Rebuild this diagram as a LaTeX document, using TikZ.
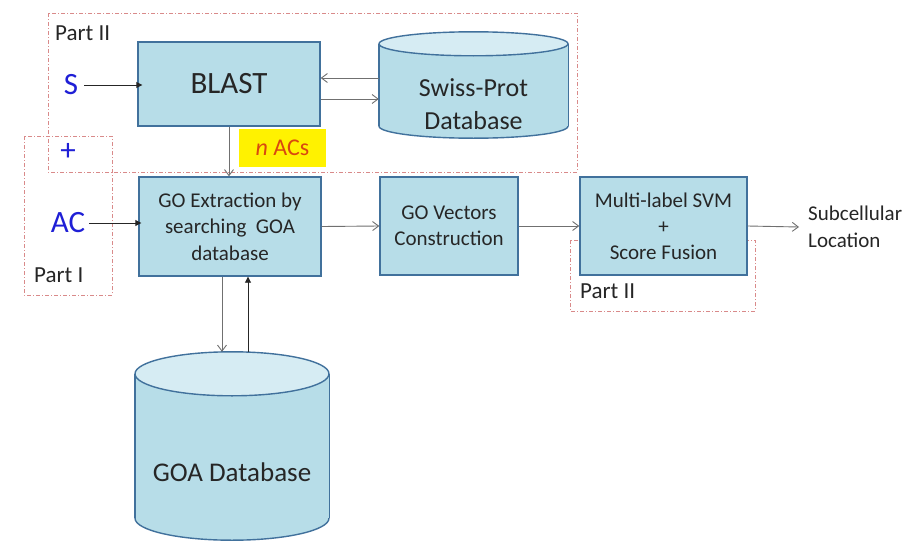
\documentclass[tikz,border=0pt]{standalone}
\usepackage{fontspec}
\setmainfont{Carlito}
\usetikzlibrary{arrows.meta,calc}
\definecolor{boxc}{HTML}{B7DDE8}
\definecolor{topc}{HTML}{D6ECF3}
\definecolor{bordc}{HTML}{41719C}
\definecolor{partc}{HTML}{D98A8A}
\definecolor{arrc}{HTML}{707070}
\definecolor{txtc}{HTML}{262626}
\definecolor{bluec}{HTML}{1F1FD6}
\definecolor{nacc}{HTML}{D9480F}
\newcommand\fsz[2]{\fontsize{#1}{#2}\selectfont}
\newcommand\dbcyl[3]{%
  \path (#1.north) ++(0,#3) coordinate (#1-t);
  \path (#1.south) ++(0,-#3) coordinate (#1-b);
  \filldraw[fill=boxc,draw=bordc,line width=1.4pt] (#1-b) ellipse [x radius=#2pt, y radius=#3pt];
  \fill[boxc] (#1.west |- #1-t) rectangle (#1.east |- #1-b);
  \draw[bordc,line width=1.4pt] (#1.west |- #1-t) -- (#1.west |- #1-b);
  \draw[bordc,line width=1.4pt] (#1.east |- #1-t) -- (#1.east |- #1-b);
  \filldraw[fill=topc,draw=bordc,line width=1.4pt] (#1-t) ellipse [x radius=#2pt, y radius=#3pt];
}
\tikzset{
  box/.style={draw=bordc, line width=1.4pt, fill=boxc, text=txtc, align=center, inner sep=0pt},
  part/.style={draw=partc, line width=0.8pt, dash pattern=on 4pt off 2pt on 1pt off 2pt},
  arr/.style={draw=arrc, line width=0.9pt, -{Straight Barb[length=6pt,width=9pt]}},
  farr/.style={draw=black!85, line width=0.9pt, -{Triangle[length=6pt,width=6pt]}},
  lbl/.style={text=txtc, inner sep=0pt, align=center},
  ghost/.style={draw=none, inner sep=0pt},
}
\begin{document}
\begin{tikzpicture}[x=1pt,y=-1pt]
\useasboundingbox[fill=white] (0,0) rectangle (921,554);

% dashed part frames
\draw[part] (48,13) rectangle (577,172);
\draw[part] (24,136) rectangle (112,295);
\draw[part] (570,240) rectangle (755,311);

% boxes
\node[box, minimum width=182pt, minimum height=84pt, font=\fsz{31}{38}] (blast) at (229,84) {BLAST};
\node[box, minimum width=182pt, minimum height=99pt, font=\fsz{21}{26.5}] (goext) at (230,226.5) {GO Extraction by\\searching\ \ GOA\\database};
\node[box, minimum width=138pt, minimum height=98pt, font=\fsz{21}{25.5}] (govec) at (449,226) {GO Vectors\\Construction};
\node[box, minimum width=167pt, minimum height=98pt, font=\fsz{21}{26}] (svm) at (663.5,226) {Multi-label SVM\\+\\Score Fusion};

% cylinders
\node[ghost, minimum width=189pt, minimum height=106pt] (swiss) at (473.5,85) {};
\dbcyl{swiss}{94.5}{12}
\node[lbl, font=\fsz{26}{33}] (swisslbl) at (473.5,104) {Swiss-Prot\\Database};

\node[ghost, minimum width=194pt, minimum height=188pt] (goa) at (232,446) {};
\dbcyl{goa}{97}{22}
\node[lbl, font=\fsz{27}{33}] (goalbl) at (232,472) {GOA Database};

% yellow label
\node[fill=yellow, minimum width=87pt, minimum height=38pt, inner sep=0pt, text=nacc, font=\fsz{24}{29}] (nacs) at (282.5,148) {\textit{n} ACs};

% inputs and part labels
\node[text=bluec, inner sep=1pt, font=\fsz{31}{38}] (S) at (71,85) {S};
\node[text=bluec, inner sep=1pt, font=\fsz{31}{38}] (plus) at (68,152) {+};
\node[text=bluec, inner sep=1pt, font=\fsz{31}{38}] (AC) at (68,223) {AC};
\node[lbl, anchor=west, font=\fsz{23}{28}] (p2a) at (55,33) {Part II};
\node[lbl, anchor=west, font=\fsz{23}{28}] (p1) at (34,275) {Part I};
\node[lbl, anchor=west, font=\fsz{23}{28}] (p2b) at (580,291) {Part II};
\node[lbl, anchor=west, align=left, font=\fsz{21}{27}] (out) at (808,227) {Subcellular\\Location};

% connectors
\draw[farr] ([xshift=5pt]S.east) -- ([xshift=5pt]S.east -| blast.west);
\draw[farr] ([xshift=3pt]AC.east) -- ([xshift=3pt]AC.east -| goext.west);
\coordinate (s1) at ($(swiss.west)+(0,-7)$);
\coordinate (s2) at ($(swiss.west)+(0,14)$);
\draw[arr] (s1) -- (s1 -| blast.east);
\draw[arr] (s2 -| blast.east) -- (s2);
\draw[arr] (blast.south) -- (blast.south |- goext.north);
\draw[arr] (goext.east) -- (govec.west);
\draw[arr] (govec.east) -- (svm.west);
\draw[arr] (svm.east) -- ([xshift=-9pt]out.west);
\coordinate (g1) at ($(goext.south)+(-8,0)$);
\coordinate (g2) at ($(goext.south)+(18,-3)$);
\draw[arr] (g1) -- (g1 |- goa.north);
\draw[farr] (g2 |- goa.north) -- (g2 |- goext.south);
\end{tikzpicture}
\end{document}
